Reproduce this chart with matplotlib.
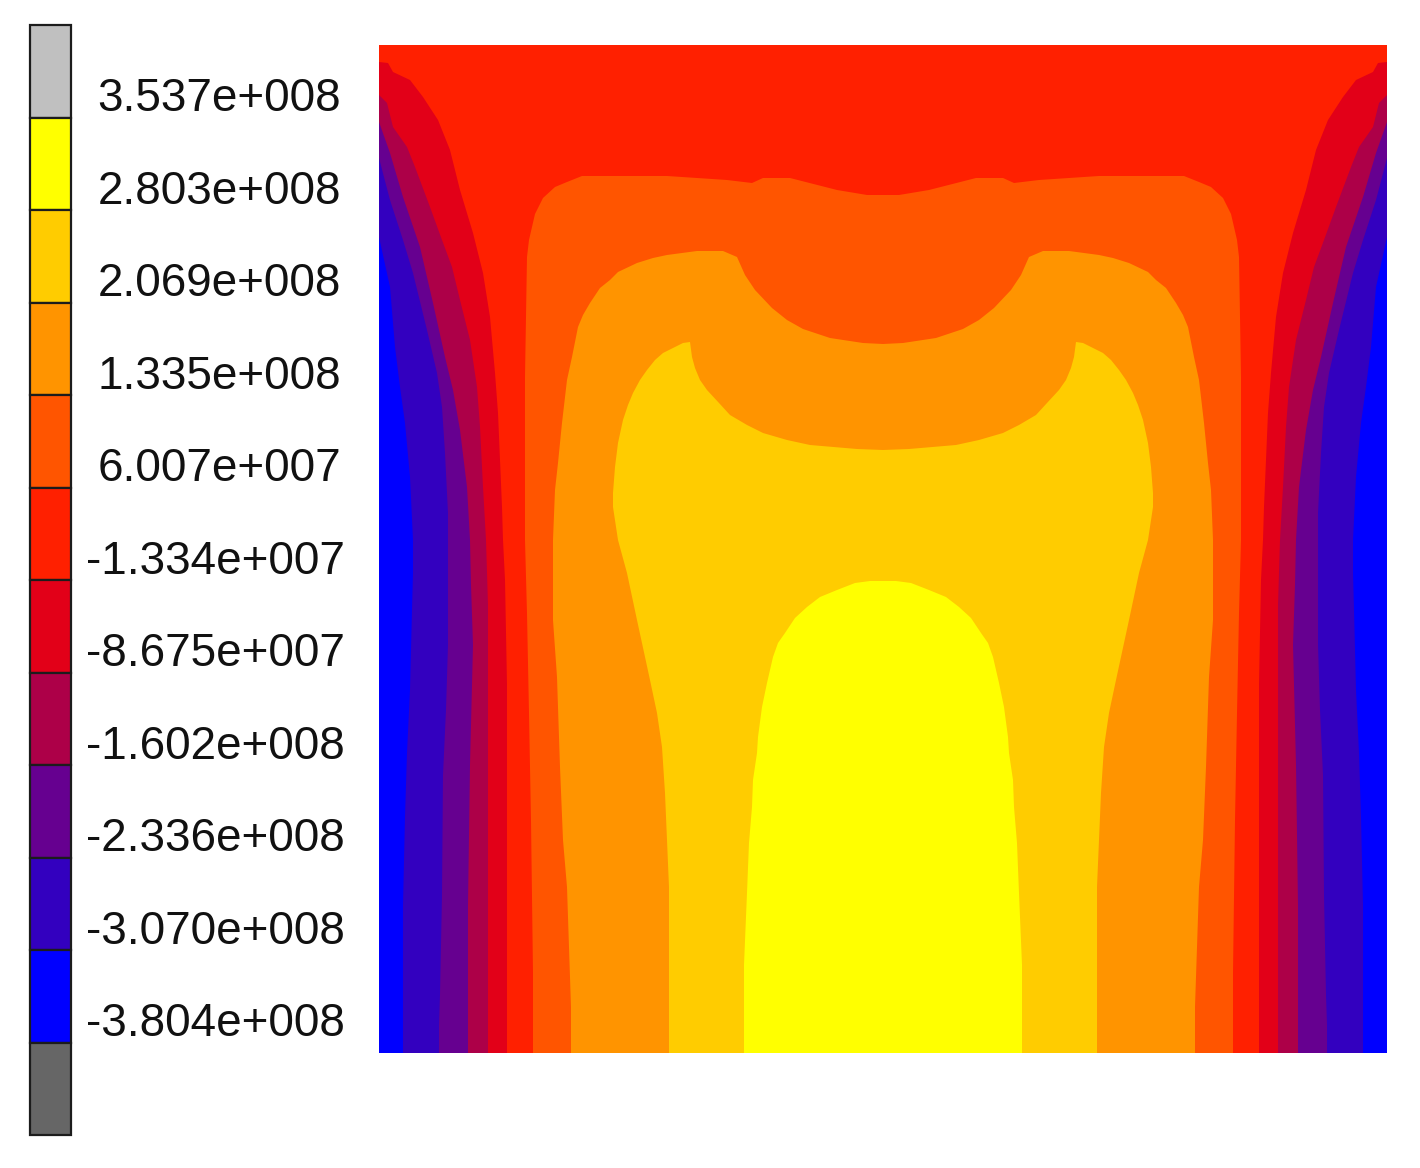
import numpy as np
import matplotlib
matplotlib.use("Agg")
import matplotlib.pyplot as plt

# legend, top to bottom
bar_colors = ["#c0c0c0", "#ffff00", "#ffcc00", "#ff9400", "#ff5500", "#ff2000",
              "#e20018", "#ad0048", "#660090", "#3300bf", "#0000ff", "#666666"]
bar_labels = ["3.537e+008", "2.803e+008", "2.069e+008", "1.335e+008", "6.007e+007",
              "-1.334e+007", "-8.675e+007", "-1.602e+008", "-2.336e+008",
              "-3.070e+008", "-3.804e+008"]

# contour edges read off the left half of the plot (the field is symmetric)
# x = distance from left edge, y = distance from top, plate is 1008 wide
indigo_x = [0, 11, 16, 21, 26, 31, 34, 34, 33, 31, 28, 26, 24, 24]
indigo_y = [192, 242, 302, 342, 378, 432, 495, 528, 565, 645, 708, 772, 860, 1008]

purple_x = [0, 11, 24, 34, 48, 58, 63, 66, 69, 69, 67, 64, 63, 61, 60, 60]
purple_y = [113, 155, 195, 228, 285, 328, 362, 408, 468, 600, 665, 730, 850, 950, 980, 1008]

crimson_x = [0, 11, 24, 41, 54, 66, 74, 81, 88, 91, 92, 94, 91, 89, 89]
crimson_y = [77, 108, 152, 202, 258, 312, 345, 385, 442, 495, 540, 600, 720, 860, 1008]

darkred_x = [0, 8, 14, 28, 36, 51, 63, 73, 81, 91, 98, 101, 104, 107, 109, 109]
darkred_y = [50, 58, 82, 102, 122, 162, 195, 222, 255, 295, 342, 382, 442, 495, 560, 1008]

red_x = [0, 9, 14, 31, 44, 59, 71, 81, 94, 104, 111, 116, 119, 123, 124, 126, 128, 128]
red_y = [17, 18, 27, 35, 52, 75, 105, 145, 188, 228, 272, 328, 368, 462, 495, 535, 640, 1008]

orangered_x = [154, 154, 152, 150, 148, 146, 146, 148, 150, 153, 156, 164, 176, 188, 203, 218,
               288, 348, 373, 384, 411, 458, 488, 504]
orangered_y = [1008, 928, 775, 668, 568, 495, 332, 212, 195, 182, 169, 153, 142, 137, 131, 131,
               131, 135, 138, 133, 133, 145, 150, 150]

orange_x = [192, 192, 188, 184, 181, 178, 174, 174, 176, 179, 183, 188, 193, 199, 204, 211,
            221, 231, 239, 258, 274, 288, 318, 344, 358, 366, 376, 393, 408, 424, 451, 484, 504]
orange_y = [1008, 962, 842, 795, 722, 632, 575, 495, 445, 418, 378, 335, 312, 282, 270, 258,
            243, 235, 227, 218, 213, 210, 206, 206, 212, 230, 245, 263, 275, 284, 293, 298, 299]

gold_x = [290, 290, 286, 283, 278, 271, 258, 248, 239, 234, 234, 236, 239, 244, 249, 254, 261, 268,
          276, 284, 294, 304, 311, 313, 316, 321, 328, 340, 351, 368, 384, 408, 431, 478, 504]
gold_y = [1008, 842, 748, 702, 668, 635, 575, 528, 495, 462, 448, 422, 398, 375, 360, 348, 335, 325,
          315, 308, 303, 298, 297, 312, 323, 335, 345, 358, 370, 380, 388, 395, 400, 404, 405]

yellow_x = [365, 365, 368, 370, 373, 374, 378, 379, 383, 388, 394, 399, 406, 416, 428, 441, 458, 476, 491, 504]
yellow_y = [1008, 920, 848, 798, 762, 735, 708, 692, 662, 638, 612, 598, 588, 573, 562, 552, 545, 538, 536, 536]

W = 1420
H = 1168
PLATE = 1008

fig = plt.figure(figsize=(W / 100, H / 100), dpi=100, facecolor="white")
plt.rcParams["font.family"] = ["Liberation Sans", "DejaVu Sans"]


def px_axes(x0, y0, x1, y1):
    return fig.add_axes([x0 / W, 1 - y1 / H, (x1 - x0) / W, (y1 - y0) / H])


ax = px_axes(379, 45, 1387, 1053)
ax.set_xlim(0, PLATE)
ax.set_ylim(PLATE, 0)
ax.axis("off")


def mirrored(x, y):
    x = np.array(x, dtype=float)
    y = np.array(y, dtype=float)
    return np.r_[x, PLATE - x[::-1]], np.r_[y, y[::-1]]


# plate is blue, each band is painted on top of the last one
ax.fill([0, PLATE, PLATE, 0], [0, 0, PLATE, PLATE], color="#0000ff", lw=0)

side_bands = [(indigo_x, indigo_y, "#3300bf"), (purple_x, purple_y, "#660090"),
              (crimson_x, crimson_y, "#ad0048"), (darkred_x, darkred_y, "#e20018"),
              (red_x, red_y, "#ff2000")]
for bx, by, c in side_bands:
    xs, ys = mirrored(bx, by)
    # these edges leave through the sides, close over the top
    ax.fill(np.r_[xs, PLATE, 0], np.r_[ys, 0, 0], color=c, lw=0)

inner_bands = [(orangered_x, orangered_y, "#ff5500"), (orange_x, orange_y, "#ff9400"),
               (gold_x, gold_y, "#ffcc00"), (yellow_x, yellow_y, "#ffff00")]
for bx, by, c in inner_bands:
    xs, ys = mirrored(bx, by)
    ax.fill(xs, ys, color=c, lw=0)

# colour legend
bar_ax = px_axes(30, 25, 71, 1135)
n = len(bar_colors)
bar_ax.set_xlim(0, 1)
bar_ax.set_ylim(n, 0)
bar_ax.axis("off")
bar_ax.bar([0.5] * n, [1] * n, width=1, bottom=np.arange(n), color=bar_colors,
           edgecolor="#1c1c1c", linewidth=1.6, clip_on=False)

for i, label in enumerate(bar_labels):
    right = 345 if label.startswith("-") else 341
    bar_ax.text((right - 30) / 41, i + 0.805, label, ha="right", va="center",
                transform=bar_ax.get_yaxis_transform(), fontsize=33, color="#111111")

fig.savefig("out.png", dpi=100)
